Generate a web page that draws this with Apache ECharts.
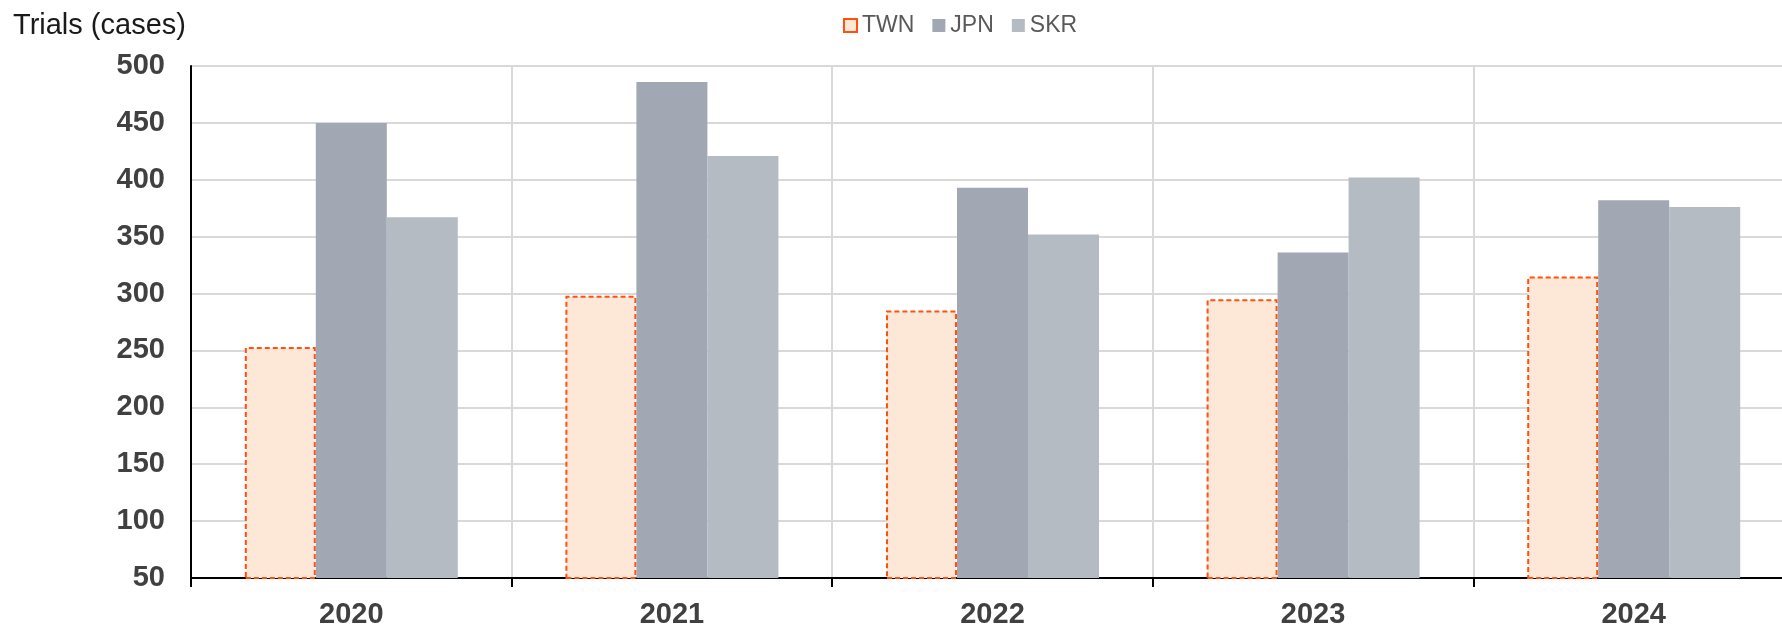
<!DOCTYPE html>
<html lang="en">
<head>
    <meta charset="UTF-8">
    <title>Trials (cases)</title>
    <style>
        html, body { margin: 0; padding: 0; background: #fff; }
        #main { width: 1782px; height: 625px; }
    </style>
</head>
<body>
    <div id="main"></div>
    <script src="https://cdn.jsdelivr.net/npm/echarts@6/dist/echarts.min.js"></script>
    <script>
        var years = ['2020', '2021', '2022', '2023', '2024'];
        var twn = [253, 298, 285, 295, 315];
        var jpn = [450, 486, 393, 336, 382];
        var skr = [367, 421, 352, 402, 376];

        var font = '"Liberation Sans", Arial, sans-serif';
        var myChart = echarts.init(document.getElementById('main'));
        var option = {
            animation: false,
            title: {
                text: 'Trials (cases)',
                left: 8,
                top: 6,
                textStyle: {
                    fontFamily: font,
                    fontSize: 29,
                    fontWeight: 'normal',
                    color: '#1a1a1a'
                }
            },
            legend: {
                left: 838,
                top: 9,
                icon: 'rect',
                itemWidth: 13,
                itemHeight: 13,
                itemGap: 18,
                selectedMode: false,
                textStyle: { fontFamily: font, fontSize: 23, color: '#595959' },
                data: ['TWN', 'JPN', 'SKR']
            },
            // plot runs a little past the right edge, as in the original
            grid: { left: 191, right: -12, top: 66, bottom: 47, outerBoundsMode: 'none', containLabel: false },
            xAxis: {
                type: 'category',
                data: years,
                axisLine: { lineStyle: { color: '#000', width: 2 } },
                axisTick: { show: true, length: 9, lineStyle: { color: '#000', width: 2 } },
                splitLine: { show: true, lineStyle: { color: '#d9d9d9', width: 2 } },
                axisLabel: {
                    margin: 22,
                    fontFamily: font,
                    fontSize: 29,
                    fontWeight: 'bold',
                    color: '#404040'
                }
            },
            yAxis: {
                type: 'value',
                min: 50,
                max: 500,
                interval: 50,
                axisLine: { show: true, lineStyle: { color: '#000', width: 2 } },
                axisTick: { show: false },
                splitLine: { lineStyle: { color: '#d9d9d9', width: 2 } },
                axisLabel: {
                    margin: 26,
                    fontFamily: font,
                    fontSize: 29,
                    fontWeight: 'bold',
                    color: '#404040'
                }
            },
            series: [
                {
                    name: 'TWN',
                    type: 'bar',
                    barWidth: 71,
                    barGap: '0%',
                    data: twn,
                    itemStyle: {
                        color: '#fde7d6',
                        borderColor: '#ff5010',
                        borderWidth: 2,
                        borderType: [5, 3]
                    }
                },
                {
                    name: 'JPN',
                    type: 'bar',
                    barWidth: 71,
                    barGap: '0%',
                    data: jpn,
                    itemStyle: { color: '#a2a8b3' }
                },
                {
                    name: 'SKR',
                    type: 'bar',
                    barWidth: 71,
                    barGap: '0%',
                    data: skr,
                    itemStyle: { color: '#b5bbc3' }
                }
            ]
        };
        myChart.setOption(option);
    </script>
</body>
</html>
